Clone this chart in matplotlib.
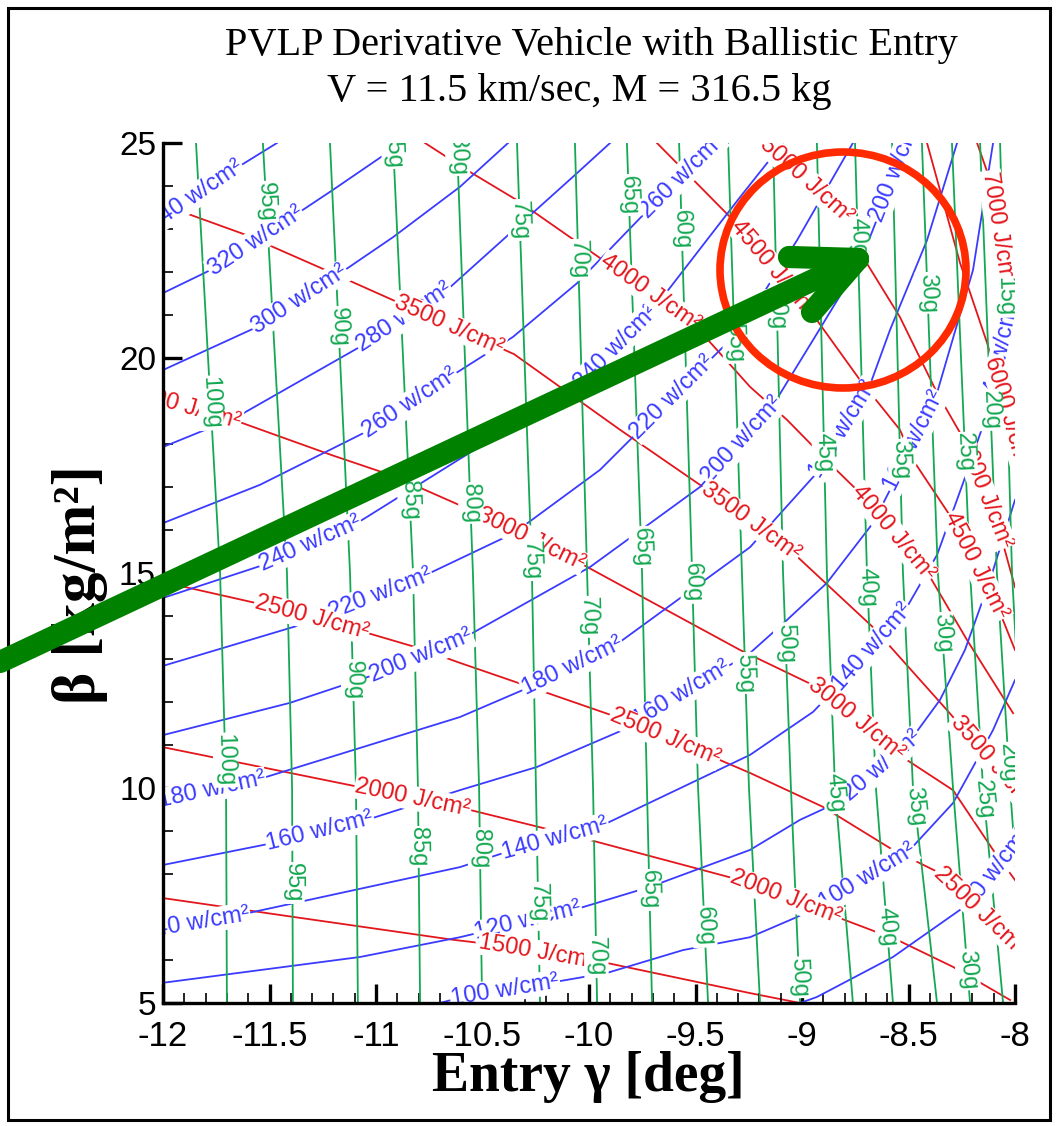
import numpy as np
import matplotlib.pyplot as plt
from matplotlib.patches import Ellipse, Rectangle
from matplotlib.lines import Line2D
from matplotlib.ticker import MultipleLocator, FuncFormatter

plt.rcParams['axes.unicode_minus'] = False

SANS = ['Liberation Sans Narrow', 'Liberation Sans', 'DejaVu Sans']
SERIF = ['Liberation Serif', 'DejaVu Serif']
plt.rcParams['font.family'] = SANS

RED = '#e3161c'
BLUE = '#3b3bff'
GREEN = '#14a852'

# ---- g-load contours (entry gamma read at beta = 25, 15, 10, 5) ----
g_levels = [100, 95, 90, 85, 80, 75, 70, 65, 60, 55, 50, 45, 40, 35, 30, 25, 20, 15]
g_beta = [25, 15, 10, 5]
g_gamma = [
    [-11.845, -11.732, -11.704, -11.700],
    [-11.531, -11.418, -11.394, -11.390],
    [-11.216, -11.122, -11.094, -11.085],
    [-10.920, -10.826, -10.803, -10.793],
    [-10.620, -10.545, -10.516, -10.502],
    [-10.338, -10.268, -10.249, -10.230],
    [-10.066, -10.009, -9.981, -9.962],
    [-9.822, -9.751, -9.728, -9.704],
    [-9.577, -9.516, -9.488, -9.441],
    [-9.347, -9.282, -9.249, -9.197],
    [-9.136, -9.089, -9.052, -9.009],
    [-8.930, -8.883, -8.845, -8.761],
    [-8.751, -8.695, -8.653, -8.573],
    [-8.577, -8.526, -8.479, -8.366],
    [-8.437, -8.362, -8.291, -8.211],
    [-8.296, -8.211, -8.150, -8.056],
    [-8.164, -8.085, -8.023, -7.950],
    [-8.070, -8.014, -7.960, -7.900],
]

# ---- heat flux contours [w/cm2] ----
q_levels = [340, 320, 300, 280, 260, 240, 220, 200, 180, 160, 140, 120, 100, 80]
q_gamma = [
    [-12.0, -11.648, -11.465],
    [-12.0, -11.746, -11.357, -11.202, -10.948, -10.878],
    [-12.0, -11.559, -11.160, -10.920, -10.606, -10.380],
    [-12.0, -11.653, -11.075, -10.667, -10.056, -9.901],
    [-12.0, -11.545, -11.028, -10.653, -10.357, -10.056, -9.714, -9.408],
    [-12.0, -11.545, -11.089, -10.465, -10.042, -9.700, -9.291, -9.089],
    [-12.0, -11.357, -10.836, -10.352, -9.948, -9.643, -9.291, -9.023, -8.761],
    [-12.0, -11.404, -10.967, -10.606, -9.995, -9.479, -9.150, -8.948, -8.728, -8.540, -8.507],
    [-12.0, -11.559, -10.606, -10.277, -9.887, -9.244, -8.930, -8.681, -8.587, -8.413, -8.272],
    [-12.0, -11.484, -11.042, -10.606, -10.244, -9.840, -9.573, -9.244, -9.070, -8.883,
     -8.667, -8.587, -8.469, -8.366, -8.197, -8.103],
    [-12.0, -11.685, -10.606, -10.357, -9.934, -9.244, -8.948, -8.836, -8.507, -8.366,
     -8.244, -8.141, -8.070, -8.0],
    [-12.0, -11.075, -10.606, -10.075, -9.714, -9.244, -9.009, -8.808, -8.507, -8.352,
     -8.235, -8.117, -8.0],
    [-10.700, -10.592, -10.183, -9.915, -9.559, -9.244, -9.023, -8.869, -8.507, -8.291,
     -8.197, -8.103, -8.0],
    [-9.009, -8.930, -8.573, -8.211, -8.0],
]
q_beta = [
    [23.26, 24.44, 25.0],
    [21.51, 22.12, 23.40, 23.91, 24.77, 25.0],
    [19.72, 20.72, 22.0, 22.81, 23.98, 25.0],
    [17.93, 18.63, 20.26, 21.58, 24.30, 25.0],
    [16.16, 17.05, 18.33, 19.56, 20.49, 21.74, 23.49, 25.0],
    [14.42, 15.16, 16.16, 18.09, 19.42, 21.12, 23.74, 25.0],
    [12.84, 13.79, 14.79, 15.93, 17.40, 18.91, 20.65, 22.74, 25.0],
    [11.23, 11.98, 12.70, 13.44, 15.14, 17.0, 18.79, 20.42, 22.21, 24.60, 25.0],
    [9.72, 10.19, 11.65, 12.35, 13.28, 15.60, 17.33, 19.37, 20.65, 22.74, 25.0],
    [8.21, 8.72, 9.26, 9.95, 10.49, 11.35, 12.16, 13.14, 13.91, 14.77,
     16.16, 16.93, 18.09, 19.19, 22.05, 25.0],
    [6.74, 7.0, 8.16, 8.56, 9.14, 10.77, 11.77, 12.35, 14.21, 15.42,
     17.09, 18.56, 19.95, 21.58],
    [5.47, 6.07, 6.53, 7.16, 7.70, 8.56, 9.26, 9.72, 11.0, 12.05,
     13.21, 14.84, 16.70],
    [5.0, 5.14, 5.47, 5.70, 6.23, 6.53, 7.0, 7.40, 8.49, 9.65,
     10.49, 11.35, 12.51],
    [5.0, 5.14, 6.07, 7.33, 8.67],
]

# ---- heat load contours [J/cm2] ----
h_levels = [1500, 2000, 2500, 3000, 3500, 4000, 4500, 5000, 6000, 7000]
h_gamma = [
    [-12.0, -11.357, -10.638, -10.465, -10.028, -9.915, -9.244, -9.009],
    [-12.0, -11.075, -10.559, -10.216, -9.995, -9.291, -8.836, -8.554, -8.291, -8.023],
    [-12.0, -11.526, -11.023, -10.803, -10.606, -10.277, -9.869, -9.418, -9.244, -8.901,
     -8.573, -8.352, -8.0],
    [-12.0, -11.629, -11.207, -10.920, -10.535, -10.042, -9.291, -8.930, -8.507, -8.291,
     -8.103, -8.0],
    [-12.0, -11.620, -11.216, -10.836, -10.352, -9.854, -9.479, -9.042, -8.667, -8.319, -8.0],
    [-10.770, -10.573, -10.338, -10.089, -9.915, -9.512, -9.244, -9.070, -8.854, -8.742,
     -8.399, -8.225, -8.009],
    [-9.681, -9.338, -8.930, -8.728, -8.540, -8.479, -8.291, -8.070, -8.0],
    [-9.174, -8.798, -8.714, -8.540, -8.366, -8.258, -8.070, -8.0],
    [-8.413, -8.258, -8.131, -8.0],
    [-8.178, -8.117, -8.038, -8.0],
]
h_beta = [
    [7.44, 6.98, 6.47, 6.37, 6.0, 5.93, 5.23, 5.0],
    [10.95, 10.02, 9.49, 9.07, 8.79, 7.86, 7.0, 6.47, 5.84, 5.07],
    [14.79, 14.26, 13.58, 13.26, 12.91, 12.35, 11.65, 10.72, 10.35, 9.56,
     8.56, 8.02, 6.35],
    [19.02, 18.49, 17.74, 17.26, 16.42, 15.23, 13.21, 12.35, 10.65, 9.95, 8.56, 7.86],
    [23.56, 22.88, 22.0, 21.16, 20.09, 18.33, 17.05, 15.47, 13.74, 11.81, 10.0],
    [25.0, 24.37, 23.67, 22.81, 22.21, 20.81, 19.33, 18.56, 17.47, 16.93,
     14.91, 13.44, 11.74],
    [25.0, 23.28, 20.88, 19.49, 18.33, 17.63, 16.23, 14.07, 13.21],
    [25.0, 23.33, 22.35, 20.95, 19.19, 18.26, 15.93, 14.67],
    [25.0, 22.21, 20.35, 18.09],
    [25.0, 24.14, 21.65, 21.12],
]

# ---- inline label spots (level, gamma, beta); snapped onto the line ----
g_label_at = [
    (100, -11.789, 18.95), (100, -11.709, 10.65), (95, -11.531, 23.63), (95, -11.390, 7.79),
    (90, -11.183, 20.72), (90, -11.113, 12.51), (85, -10.920, 24.88), (85, -10.850, 16.70),
    (85, -10.803, 8.63), (80, -10.620, 24.72), (80, -10.559, 16.63), (80, -10.512, 8.60),
    (75, -10.324, 23.21), (75, -10.277, 15.30), (75, -10.239, 7.33), (70, -10.066, 22.28),
    (70, -10.009, 13.98), (70, -9.972, 6.07), (65, -9.807, 23.79), (65, -9.775, 15.60),
    (65, -9.713, 7.63), (60, -9.563, 22.98), (60, -9.526, 14.77), (60, -9.479, 6.77),
    (55, -9.338, 20.35), (55, -9.291, 12.67), (50, -9.136, 21.12), (50, -9.070, 13.37),
    (50, -8.995, 5.60), (45, -8.906, 17.79), (45, -8.845, 9.88), (40, -8.742, 22.81),
    (40, -8.695, 14.67), (40, -8.620, 6.77), (35, -8.549, 17.63), (35, -8.479, 9.56),
    (30, -8.432, 21.51), (30, -8.362, 13.60), (30, -8.244, 5.77), (25, -8.272, 17.79),
    (25, -8.178, 9.72), (20, -8.131, 18.79), (20, -8.056, 10.58), (15, -8.056, 21.42),
]
q_label_at = [
    (340, -11.845, 23.77), (320, -11.559, 22.67), (300, -11.357, 21.35), (280, -10.864, 20.93),
    (260, -10.850, 19.02), (260, -9.563, 24.23), (240, -11.310, 15.70), (240, -9.873, 20.26),
    (220, -10.990, 14.65), (220, -9.610, 19.09), (200, -10.789, 13.09), (200, -9.291, 18.15),
    (200, -8.554, 24.37), (180, -11.770, 9.95), (180, -10.080, 12.86), (180, -8.798, 18.33),
    (160, -11.263, 8.98), (160, -9.563, 12.16), (160, -8.479, 18.09), (140, -11.850, 6.93),
    (140, -10.160, 8.84), (140, -8.671, 13.28), (140, -8.070, 20.14), (120, -10.291, 6.98),
    (120, -8.657, 10.49), (100, -10.394, 5.30), (100, -8.690, 7.93), (80, -8.070, 8.09),
]
h_label_at = [
    (1500, -10.244, 6.19), (2000, -10.826, 9.79), (2000, -9.070, 7.51),
    (2500, -11.300, 13.98), (2500, -9.643, 11.19), (2500, -8.155, 7.21),
    (3000, -11.90, 18.90), (3000, -10.268, 15.84), (3000, -8.728, 11.70),
    (3500, -10.662, 20.70), (3500, -9.240, 16.20), (3500, -8.117, 10.53),
    (4000, -9.714, 21.51), (4000, -8.573, 15.93), (4500, -9.136, 22.12),
    (4500, -8.174, 15.19), (5000, -8.953, 24.26), (5000, -8.141, 16.88),
    (6000, -8.061, 18.67), (7000, -8.094, 22.98),
]


def snap(ax, gx, gy, px, py):
    """project a label spot onto the polyline, return position and angle"""
    pts = ax.transData.transform(np.column_stack([gx, gy]))
    p = ax.transData.transform((px, py))
    best = None
    for a, b in zip(pts[:-1], pts[1:]):
        d = b - a
        t = np.clip(np.dot(p - a, d) / np.dot(d, d), 0, 1)
        q = a + t * d
        dist = np.hypot(*(p - q))
        if best is None or dist < best[0]:
            best = (dist, q, d)
    _, q, d = best
    ang = np.degrees(np.arctan2(d[1], d[0]))
    if ang > 90:
        ang -= 180
    elif ang <= -90:
        ang += 180
    x, y = ax.transData.inverted().transform(q)
    return x, y, ang


def draw_family(ax, levels, xs, ys, labels, fmt, color, z, zlab):
    lines = {}
    for lev, gx, gy in zip(levels, xs, ys):
        ax.plot(gx, gy, color=color, lw=1.3, zorder=z)
        lines[lev] = (gx, gy)
    for lev, px, py in labels:
        gx, gy = lines[lev]
        x, y, ang = snap(ax, gx, gy, px, py)
        ax.text(x, y, fmt.format(lev), color=color, fontsize=17, rotation=ang,
                rotation_mode='anchor', ha='center', va='center', zorder=zlab,
                clip_on=True,
                bbox=dict(boxstyle='square,pad=0.05', fc='white', ec='none'))


fig = plt.figure(figsize=(10.59, 11.26), dpi=100)
ax = fig.add_axes([163 / 1059, 1 - 1003 / 1126, 852 / 1059, 860 / 1126])
ax.set_xlim(-12, -8)
ax.set_ylim(5, 25)

draw_family(ax, h_levels, h_gamma, h_beta, h_label_at, '{} J/cm²', RED, 1, 4.1)
draw_family(ax, q_levels, q_gamma, q_beta, q_label_at, '{} w/cm²', BLUE, 2, 4.0)
draw_family(ax, g_levels, g_gamma, [g_beta] * len(g_levels), g_label_at, '{}g', GREEN, 3, 4.2)

ax.spines[['top', 'right']].set_visible(False)
for s in ['left', 'bottom']:
    ax.spines[s].set_linewidth(2.4)
    ax.spines[s].set_zorder(6)
ax.xaxis.set_major_locator(MultipleLocator(0.5))
ax.xaxis.set_minor_locator(MultipleLocator(0.1))
ax.yaxis.set_major_locator(MultipleLocator(5))
ax.yaxis.set_minor_locator(MultipleLocator(1))
fmt = FuncFormatter(lambda v, p: f"{v:g}")
ax.xaxis.set_major_formatter(fmt)
ax.yaxis.set_major_formatter(fmt)
ax.tick_params(which='major', direction='in', length=14, width=2.4)
ax.tick_params(which='minor', direction='in', length=7, width=1.2)
ax.tick_params(axis='x', pad=12, labelsize=25)
ax.tick_params(axis='y', pad=5, labelsize=24)

fig.text(591 / 1059, 1 - 45 / 1126, 'PVLP Derivative Vehicle with Ballistic Entry',
         ha='center', va='center', fontsize=29, family=SERIF)
fig.text(579 / 1059, 1 - 92 / 1126, 'V = 11.5 km/sec, M = 316.5 kg',
         ha='center', va='center', fontsize=29, family=SERIF)
fig.text(588 / 1059, 1 - 1077 / 1126, 'Entry γ [deg]', ha='center', va='center',
         fontsize=40, fontweight='bold', family=SERIF)
fig.text(80 / 1059, 1 - 585 / 1126, 'β [kg/m²]', ha='center', va='center', rotation=90,
         fontsize=44, fontweight='bold', family=SERIF)

# border frame
fig.add_artist(Rectangle((8 / 1059, 1 - 1120 / 1126), 1042 / 1059, 1112 / 1126,
                         transform=fig.transFigure, fill=False, lw=2.2, ec='black'))

# red highlight circle and green pointer arrow
fig.add_artist(Ellipse((843 / 1059, 1 - 270 / 1126), 246 / 1059, 236 / 1126,
                       transform=fig.transFigure, fill=False, lw=5.5, ec='#ff2a00', zorder=8))
arrow_tip = (858, 259)
arrow_strokes = [((0, 662), arrow_tip), ((789, 257), arrow_tip), ((812, 312), arrow_tip)]
for (x0, y0), (x1, y1) in arrow_strokes:
    fig.add_artist(Line2D([x0 / 1059, x1 / 1059], [1 - y0 / 1126, 1 - y1 / 1126],
                          transform=fig.transFigure, color='#008200', lw=16,
                          solid_capstyle='round', zorder=9))

fig.savefig('out.png', dpi=100)
